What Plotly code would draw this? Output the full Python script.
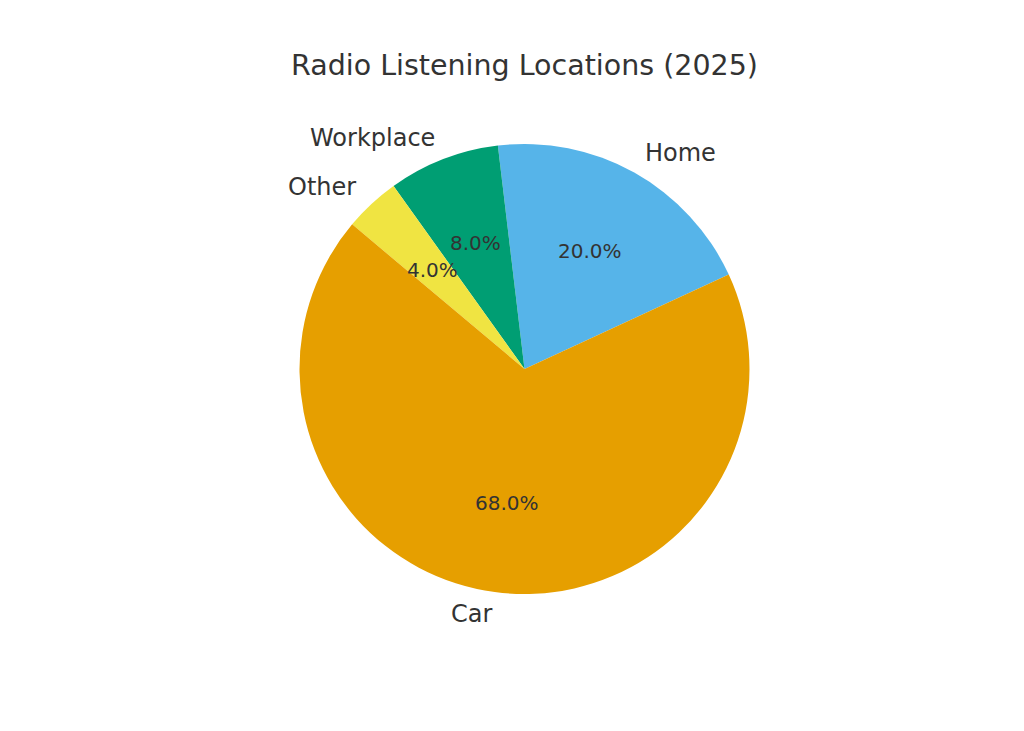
import math
import plotly.graph_objects as go

# ---- data ----
labels = ["Home", "Workplace", "Other", "Car"]
values = [20, 8, 4, 68]
colors = ["#56B4E9", "#009E73", "#F0E442", "#E69F00"]
title_text = "Radio Listening Locations (2025)"

START_DEG = 24.8          # angle (math convention, ccw from 3 o'clock) where first slice begins
PCT_DIST = 0.6
LABEL_DIST = 1.1
TEXT_COLOR = "#333333"
FONT = "DejaVu Sans"

W, H = 1024, 731
cx, cy, R = 524.5, 369.0, 225.0
xdom = [(cx - R) / W, (cx + R) / W]
ydom = [1 - (cy + R) / H, 1 - (cy - R) / H]
EXT = 1.5
axdom_x = [(cx - EXT * R) / W, (cx + EXT * R) / W]
axdom_y = [1 - (cy + EXT * R) / H, 1 - (cy - EXT * R) / H]

total = float(sum(values))
# plotly rotation: clockwise from 12 o'clock for the first slice's start (ccw direction)
rotation = 90 - START_DEG - 360 * values[0] / total

fig = go.Figure()
# invisible anchor trace so the (hidden) cartesian axes exist for text placement
fig.add_trace(go.Scatter(
    x=[0], y=[0], mode="markers", marker=dict(opacity=0, size=1),
    hoverinfo="skip", showlegend=False,
))
fig.add_trace(go.Pie(
    labels=labels, values=values, sort=False, direction="counterclockwise",
    rotation=rotation, marker=dict(colors=colors, line=dict(width=0)),
    textinfo="none", hoverinfo="label+percent", showlegend=False,
    domain=dict(x=xdom, y=ydom),
))

annotations = []
a0 = START_DEG
for lab, v in zip(labels, values):
    span = 360 * v / total
    mid = math.radians(a0 + span / 2)
    c, s = math.cos(mid), math.sin(mid)
    annotations.append(dict(
        x=PCT_DIST * c, y=PCT_DIST * s, xref="x", yref="y",
        text=f"{100 * v / total:.1f}%", showarrow=False,
        xanchor="center", yanchor="middle",
        font=dict(family=FONT, size=20, color=TEXT_COLOR),
    ))
    annotations.append(dict(
        x=LABEL_DIST * c, y=LABEL_DIST * s, xref="x", yref="y", text=lab,
        showarrow=False, xanchor="left" if c > 0 else "right", yanchor="middle",
        xshift=-2 if c > 0 else 2,
        font=dict(family=FONT, size=24, color=TEXT_COLOR),
    ))
    a0 += span

annotations.append(dict(
    x=cx / W, y=1 - 66 / H, xref="paper", yref="paper", text=title_text,
    showarrow=False, xanchor="center", yanchor="middle",
    font=dict(family=FONT, size=28.5, color=TEXT_COLOR),
))

fig.update_layout(
    width=W, height=H,
    margin=dict(l=0, r=0, t=0, b=0),
    paper_bgcolor="white", plot_bgcolor="rgba(0,0,0,0)",
    xaxis=dict(domain=axdom_x, range=[-EXT, EXT], visible=False, fixedrange=True),
    yaxis=dict(domain=axdom_y, range=[-EXT, EXT], visible=False, fixedrange=True),
    annotations=annotations,
    font=dict(family=FONT, color=TEXT_COLOR),
)

fig.write_html("out.html", config={"displayModeBar": False},
               post_script="document.body.style.margin='0';")
